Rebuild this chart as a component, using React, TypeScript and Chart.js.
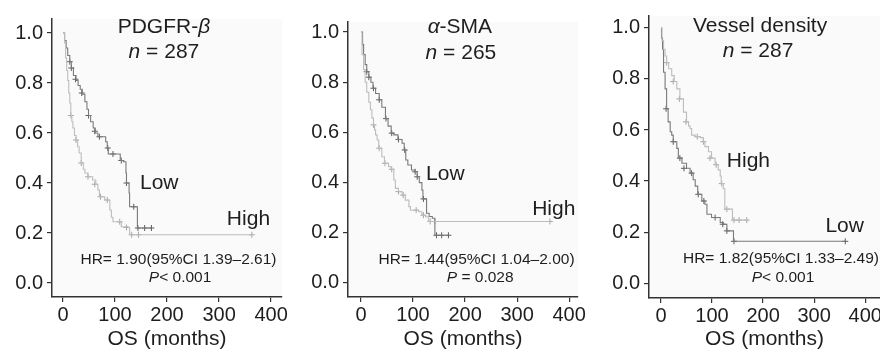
import React, { useEffect, useRef } from "react";
import { Chart, registerables } from "chart.js";

Chart.register(...registerables);

// ---------------- data ----------------
const xTicks = [0, 100, 200, 300, 400];
const yTicks = [0, 0.2, 0.4, 0.6, 0.8, 1.0];

// Panel 1: PDGFR-β
const pdgfrLowTime = [0, 3, 6, 9, 13, 16, 20, 25, 29, 33, 37, 42, 46, 49, 53, 58, 62, 67, 80, 82, 85, 87, 107, 110, 116, 121, 122, 127, 128, 142, 143, 170];
const pdgfrLowSurv = [1, 0.97, 0.94, 0.91, 0.885, 0.86, 0.83, 0.81, 0.79, 0.775, 0.755, 0.725, 0.695, 0.67, 0.645, 0.62, 0.6, 0.585, 0.585, 0.565, 0.54, 0.516, 0.516, 0.49, 0.485, 0.44, 0.4, 0.36, 0.305, 0.305, 0.22, 0.22];
const pdgfrLowCensorTime = [13, 16, 24, 36, 49, 61, 70, 86, 96, 112, 122, 136, 144, 157, 170];
const pdgfrLowCensorSurv = [0.885, 0.86, 0.815, 0.76, 0.67, 0.607, 0.585, 0.54, 0.516, 0.49, 0.4, 0.305, 0.22, 0.22, 0.22];
const pdgfrHighTime = [0, 3, 5, 7, 9, 11, 13, 15, 17, 19, 22, 25, 28, 31, 35, 39, 42, 48, 57, 63, 67, 70, 80, 88, 90, 93, 96, 109, 112, 126, 128, 363];
const pdgfrHighSurv = [1, 0.96, 0.9, 0.85, 0.81, 0.76, 0.72, 0.67, 0.645, 0.62, 0.59, 0.572, 0.545, 0.52, 0.48, 0.455, 0.44, 0.425, 0.412, 0.395, 0.372, 0.345, 0.332, 0.33, 0.292, 0.263, 0.245, 0.245, 0.225, 0.222, 0.193, 0.193];
const pdgfrHighCensorTime = [15, 25, 35, 48, 61, 72, 85, 109, 122, 132, 145, 363];
const pdgfrHighCensorSurv = [0.67, 0.572, 0.48, 0.425, 0.395, 0.345, 0.332, 0.245, 0.222, 0.193, 0.193, 0.193];

// Panel 2: α-SMA
const smaLowTime = [0, 3, 5, 8, 11, 15, 19, 23, 28, 35, 40, 47, 52, 58, 63, 71, 79, 83, 86, 90, 97, 104, 108, 112, 117, 119, 125, 126, 131, 137, 142, 168];
const smaLowSurv = [1, 0.95, 0.91, 0.87, 0.842, 0.82, 0.8, 0.776, 0.755, 0.73, 0.7, 0.655, 0.625, 0.597, 0.59, 0.572, 0.557, 0.53, 0.49, 0.47, 0.45, 0.443, 0.423, 0.4, 0.37, 0.335, 0.335, 0.278, 0.265, 0.258, 0.19, 0.19];
const smaLowCensorTime = [11, 15, 24, 35, 48, 59, 72, 84, 104, 108, 120, 145, 155, 168];
const smaLowCensorSurv = [0.842, 0.82, 0.776, 0.73, 0.655, 0.597, 0.572, 0.53, 0.443, 0.423, 0.335, 0.19, 0.19, 0.19];
const smaHighTime = [0, 2, 5, 8, 11, 15, 18, 21, 24, 26, 28, 31, 34, 40, 45, 53, 58, 63, 66, 72, 79, 85, 92, 95, 104, 111, 117, 124, 130, 363];
const smaHighSurv = [1, 0.91, 0.85, 0.8, 0.76, 0.72, 0.69, 0.657, 0.63, 0.61, 0.59, 0.57, 0.537, 0.503, 0.477, 0.463, 0.453, 0.41, 0.377, 0.364, 0.35, 0.33, 0.304, 0.29, 0.29, 0.284, 0.27, 0.264, 0.245, 0.245];
const smaHighCensorTime = [24, 35, 46, 59, 72, 81, 106, 120, 133, 142, 363];
const smaHighCensorSurv = [0.63, 0.537, 0.477, 0.453, 0.364, 0.35, 0.29, 0.27, 0.245, 0.245, 0.245];

// Panel 3: Vessel density
const vdLowTime = [0, 1, 3, 5, 8, 11, 14, 18, 21, 24, 31, 34, 41, 50, 57, 63, 67, 72, 80, 86, 90, 99, 109, 116, 122, 129, 139, 142, 361];
const vdLowSurv = [1, 0.96, 0.916, 0.826, 0.761, 0.683, 0.632, 0.593, 0.58, 0.554, 0.528, 0.49, 0.47, 0.45, 0.431, 0.405, 0.38, 0.348, 0.322, 0.309, 0.27, 0.257, 0.257, 0.238, 0.231, 0.205, 0.205, 0.164, 0.164];
const vdLowCensorTime = [10, 24, 37, 45, 60, 73, 84, 106, 121, 129, 143, 361];
const vdLowCensorSurv = [0.683, 0.554, 0.49, 0.45, 0.431, 0.348, 0.322, 0.257, 0.231, 0.205, 0.164, 0.164];
const vdHighTime = [0, 2, 5, 8, 11, 15, 21, 26, 31, 37, 44, 50, 54, 57, 60, 67, 77, 83, 86, 93, 99, 106, 112, 116, 118, 122, 125, 137, 140, 168];
const vdHighSurv = [1, 0.95, 0.916, 0.89, 0.864, 0.84, 0.813, 0.79, 0.761, 0.722, 0.67, 0.632, 0.615, 0.606, 0.58, 0.574, 0.57, 0.554, 0.535, 0.515, 0.49, 0.464, 0.444, 0.42, 0.39, 0.37, 0.29, 0.29, 0.247, 0.247];
const vdHighCensorTime = [11, 24, 36, 49, 71, 83, 96, 108, 119, 129, 143, 153, 168];
const vdHighCensorSurv = [0.864, 0.79, 0.722, 0.632, 0.574, 0.554, 0.49, 0.464, 0.39, 0.29, 0.247, 0.247, 0.247];

const xTitle = "OS (months)";

// ---------------- styling / layout ----------------
const FAMILY = "'Liberation Sans', Arial, Helvetica, sans-serif";
const CANVAS_W = 890;
const CANVAS_H = 355;
const LOW_COLOR = "#7a7a7a";
const HIGH_COLOR = "#bdbdbd";
const LOW_MARK = "#5e5e5e";
const HIGH_MARK = "#a6a6a6";
const AXIS_COLOR = "#333333";
const TEXT_COLOR = "#1e1e1e";

type Seg = { t: string; it?: boolean };
type Label = { segs: Seg[]; x: number; y: number; size: number; align: "left" | "center" };
type Curve = { t: number[]; s: number[]; ct: number[]; cs: number[] };
type PanelCfg = {
  offset: number;
  area: { left: number; right: number; top: number; bottom: number };
  xMin: number; xMax: number; yMin: number; yMax: number;
  low: Curve; high: Curve;
  labels: Label[];
};

const panels: PanelCfg[] = [
  {
    offset: 0,
    area: { left: 52, right: 282, top: 19, bottom: 297 },
    xMin: -21.2, xMax: 421, yMin: -0.056, yMax: 1.056,
    low: { t: pdgfrLowTime, s: pdgfrLowSurv, ct: pdgfrLowCensorTime, cs: pdgfrLowCensorSurv },
    high: { t: pdgfrHighTime, s: pdgfrHighSurv, ct: pdgfrHighCensorTime, cs: pdgfrHighCensorSurv },
    labels: [
      { segs: [{ t: "PDGFR-" }, { t: "β", it: true }], x: 194, y: 1.0, size: 21, align: "center" },
      { segs: [{ t: "n", it: true }, { t: " = 287" }], x: 194, y: 0.9, size: 21, align: "center" },
      { segs: [{ t: "Low" }], x: 148, y: 0.376, size: 21, align: "left" },
      { segs: [{ t: "High" }], x: 315, y: 0.232, size: 21, align: "left" },
      { segs: [{ t: "HR= 1.90(95%CI 1.39–2.61)" }], x: 222, y: 0.076, size: 15.5, align: "center" },
      { segs: [{ t: "P", it: true }, { t: "< 0.001" }], x: 225, y: 0.004, size: 15.5, align: "center" },
    ],
  },
  {
    offset: 290,
    area: { left: 348, right: 578, top: 22, bottom: 297 },
    xMin: -25, xMax: 417, yMin: -0.056, yMax: 1.04,
    low: { t: smaLowTime, s: smaLowSurv, ct: smaLowCensorTime, cs: smaLowCensorSurv },
    high: { t: smaHighTime, s: smaHighSurv, ct: smaHighCensorTime, cs: smaHighCensorSurv },
    labels: [
      { segs: [{ t: "α", it: true }, { t: "-SMA" }], x: 190, y: 0.996, size: 21, align: "center" },
      { segs: [{ t: "n", it: true }, { t: " = 265" }], x: 192, y: 0.892, size: 21, align: "center" },
      { segs: [{ t: "Low" }], x: 125, y: 0.41, size: 21, align: "left" },
      { segs: [{ t: "High" }], x: 329, y: 0.271, size: 21, align: "left" },
      { segs: [{ t: "HR= 1.44(95%CI 1.04–2.00)" }], x: 222, y: 0.076, size: 15.5, align: "center" },
      { segs: [{ t: "P", it: true }, { t: " = 0.028" }], x: 229, y: 0.004, size: 15.5, align: "center" },
    ],
  },
  {
    offset: 580,
    area: { left: 649, right: 880, top: 13, bottom: 298 },
    xMin: -23.5, xMax: 429, yMin: -0.058, yMax: 1.0465,
    low: { t: vdLowTime, s: vdLowSurv, ct: vdLowCensorTime, cs: vdLowCensorSurv },
    high: { t: vdHighTime, s: vdHighSurv, ct: vdHighCensorTime, cs: vdHighCensorSurv },
    labels: [
      { segs: [{ t: "Vessel density" }], x: 194, y: 0.984, size: 21, align: "center" },
      { segs: [{ t: "n", it: true }, { t: " = 287" }], x: 190, y: 0.884, size: 21, align: "center" },
      { segs: [{ t: "High" }], x: 129, y: 0.457, size: 21, align: "left" },
      { segs: [{ t: "Low" }], x: 322, y: 0.2, size: 21, align: "left" },
      { segs: [{ t: "HR= 1.82(95%CI 1.33–2.49)" }], x: 235, y: 0.078, size: 15.5, align: "center" },
      { segs: [{ t: "P", it: true }, { t: "< 0.001" }], x: 239, y: 0.004, size: 15.5, align: "center" },
    ],
  },
];

function pts(t: number[], s: number[]) {
  return t.map((x, i) => ({ x, y: s[i] }));
}

function drawRich(ctx: CanvasRenderingContext2D, l: Label, px: number, py: number) {
  const fonts = l.segs.map((s) => `${s.it ? "italic " : ""}${l.size}px ${FAMILY}`);
  const widths = l.segs.map((s, i) => {
    ctx.font = fonts[i];
    return ctx.measureText(s.t).width;
  });
  const total = widths.reduce((a, b) => a + b, 0);
  let cx = l.align === "center" ? px - total / 2 : px;
  ctx.textAlign = "left";
  ctx.textBaseline = "alphabetic";
  ctx.fillStyle = TEXT_COLOR;
  l.segs.forEach((s, i) => {
    ctx.font = fonts[i];
    ctx.fillText(s.t, cx, py);
    cx += widths[i];
  });
}

function Panel({ cfg }: { cfg: PanelCfg }) {
  const ref = useRef<HTMLCanvasElement | null>(null);
  useEffect(() => {
    if (!ref.current) return;
    const deco = {
      id: "deco" + cfg.offset,
      beforeDraw(chart: any) {
        const { ctx, chartArea: a } = chart;
        ctx.save();
        ctx.fillStyle = "#fafafa";
        ctx.fillRect(a.left, a.top, a.right - a.left, a.bottom - a.top);
        ctx.restore();
      },
      afterDatasetsDraw(chart: any) {
        const { ctx, scales } = chart;
        ctx.save();
        cfg.labels.forEach((l) => {
          drawRich(ctx, l, scales.x.getPixelForValue(l.x), scales.y.getPixelForValue(l.y));
        });
        ctx.restore();
      },
    };
    const lineDs = (c: Curve, color: string) => ({
      type: "line" as const,
      data: pts(c.t, c.s),
      borderColor: color,
      borderWidth: 1.1,
      stepped: "before" as const,
      pointRadius: 0,
      fill: false,
    });
    const censorDs = (c: Curve, color: string) => ({
      type: "scatter" as const,
      data: pts(c.ct, c.cs),
      pointStyle: "cross" as const,
      pointRadius: 3,
      borderColor: color,
      backgroundColor: color,
      borderWidth: 1,
      showLine: false,
    });
    const axisFont = { family: FAMILY, size: 20 };
    const chart = new Chart(ref.current, {
      type: "line",
      data: {
        datasets: [
          lineDs(cfg.high, HIGH_COLOR),
          lineDs(cfg.low, LOW_COLOR),
          censorDs(cfg.high, HIGH_MARK),
          censorDs(cfg.low, LOW_MARK),
        ] as any,
      },
      options: {
        animation: false,
        responsive: false,
        devicePixelRatio: 1,
        events: [],
        layout: {
          padding: { left: cfg.offset, right: CANVAS_W - cfg.area.right, top: cfg.area.top, bottom: 0 },
        },
        plugins: { legend: { display: false }, tooltip: { enabled: false }, title: { display: false } },
        scales: {
          x: {
            type: "linear",
            min: cfg.xMin,
            max: cfg.xMax,
            afterBuildTicks: (s: any) => {
              s.ticks = xTicks.map((v) => ({ value: v }));
            },
            afterFit: (s: any) => {
              s.height = CANVAS_H - cfg.area.bottom;
            },
            ticks: { callback: (v: any) => String(v), font: axisFont, color: TEXT_COLOR, padding: 1, maxRotation: 0, autoSkip: false },
            grid: { drawOnChartArea: false, drawTicks: true, tickLength: 5, color: AXIS_COLOR, lineWidth: 1.2 },
            border: { display: true, color: AXIS_COLOR, width: 1.5 },
            title: { display: true, text: xTitle, font: { family: FAMILY, size: 21 }, color: TEXT_COLOR, padding: { top: 0, bottom: 3 } },
          },
          y: {
            type: "linear",
            min: cfg.yMin,
            max: cfg.yMax,
            afterBuildTicks: (s: any) => {
              s.ticks = yTicks.map((v) => ({ value: v }));
            },
            afterFit: (s: any) => {
              s.width = cfg.area.left - cfg.offset;
            },
            ticks: { callback: (v: any) => Number(v).toFixed(1), font: axisFont, color: TEXT_COLOR, padding: 4, autoSkip: false },
            grid: { drawOnChartArea: false, drawTicks: true, tickLength: 5, color: AXIS_COLOR, lineWidth: 1.2 },
            border: { display: true, color: AXIS_COLOR, width: 1.5 },
          },
        },
      } as any,
      plugins: [deco],
    });
    return () => chart.destroy();
  }, [cfg]);
  return (
    <canvas
      ref={ref}
      width={CANVAS_W}
      height={CANVAS_H}
      style={{ position: "absolute", left: 0, top: 0, width: CANVAS_W, height: CANVAS_H }}
    />
  );
}

export default function App() {
  return (
    <div
      style={{
        position: "fixed",
        left: 0,
        top: 0,
        width: 880,
        height: 355,
        overflow: "hidden",
        background: "#ffffff",
      }}
    >
      {panels.map((p) => (
        <Panel key={p.offset} cfg={p} />
      ))}
    </div>
  );
}
